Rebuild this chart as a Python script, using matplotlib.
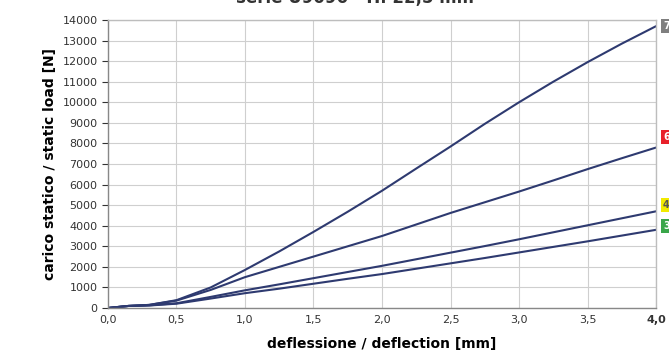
import matplotlib.pyplot as plt
import numpy as np

# deflessione [mm]
defl = [0.0, 0.15, 0.3, 0.5, 0.75, 1.0, 1.25, 1.5, 1.75, 2.0, 2.25, 2.5,
        2.75, 3.0, 3.25, 3.5, 3.75, 4.0]

# carico statico [N] per ogni curva
carico_7 = [0, 100, 150, 380, 1000, 1850, 2750, 3700, 4680, 5700, 6780, 7850,
            8950, 10000, 11000, 11950, 12850, 13700]
carico_6 = [0, 100, 150, 360, 880, 1500, 2000, 2500, 3000, 3500, 4060, 4620,
            5140, 5660, 6200, 6750, 7280, 7800]
carico_4 = [0, 100, 130, 230, 540, 860, 1150, 1450, 1750, 2050, 2370, 2690,
            3010, 3340, 3680, 4020, 4360, 4700]
carico_3 = [0, 100, 120, 210, 460, 720, 940, 1180, 1420, 1650, 1910, 2170,
            2430, 2700, 2970, 3240, 3520, 3800]

etichette = ['7', '6', '4', '3']
pos_etichette = [13700, 8300, 5000, 4000]
colori_box = ['#7f7f7f', '#e8202a', '#f2ea00', '#3aa64a']
colori_testo = ['white', 'white', '#555555', 'white']

fig = plt.figure(figsize=(6.69, 3.51), dpi=100)
ax = fig.add_axes([0.1614, 0.1225, 0.8192, 0.8205])

serie = [carico_7, carico_6, carico_4, carico_3]
for s in serie:
    ax.plot(defl, s, color='#2e3a70', lw=1.5, solid_capstyle='round')

ax.set_xlim(0, 4)
ax.set_ylim(0, 14000)
ax.set_xticks(np.arange(0, 4.01, 0.5))
ax.set_yticks(np.arange(0, 14001, 1000))
ax.set_xticklabels(['0,0', '0,5', '1,0', '1,5', '2,0', '2,5', '3,0', '3,5', '4,0'])
ax.get_xticklabels()[-1].set_fontweight('bold')
ax.tick_params(labelsize=8, colors='#333333', length=4, width=0.8)
ax.tick_params(axis='x', length=0, pad=5)
ax.grid(True, color='#cfcfcf', lw=0.8)
for sp in ax.spines.values():
    sp.set_color('#bdbdbd')
    sp.set_linewidth(1)
ax.spines['left'].set_color('#888888')
ax.spines['bottom'].set_color('#888888')

ax.set_xlabel('deflessione / deflection [mm]', fontsize=10, fontweight='bold', labelpad=9)
ax.set_ylabel('carico statico / static load [N]', fontsize=10, fontweight='bold', labelpad=4)

# etichette a destra delle curve
for y, lab, cb, ct in zip(pos_etichette, etichette, colori_box, colori_testo):
    ax.annotate(lab, xy=(1.0, y), xycoords=('axes fraction', 'data'),
                xytext=(5, 0), textcoords='offset points', va='center', ha='left',
                fontsize=7, fontweight='bold', color=ct, annotation_clip=False,
                bbox=dict(boxstyle='square,pad=0.2', fc=cb, ec='none'))

fig.text(0.53, 1.005, 'serie U9096 - H. 22,5 mm', ha='center', va='center',
         fontsize=12, fontweight='bold', color='#333333')

fig.savefig('out.png', dpi=100)
